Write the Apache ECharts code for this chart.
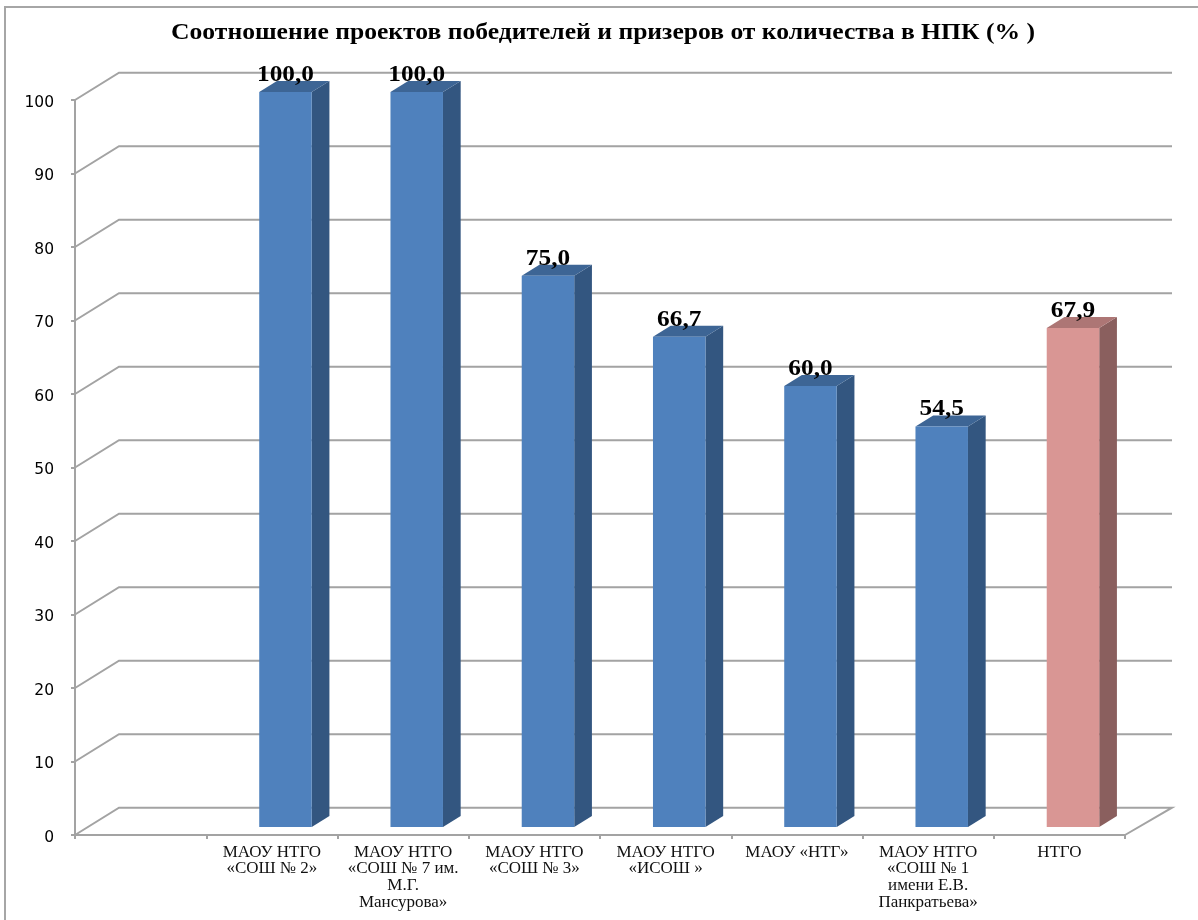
<!DOCTYPE html>
<html><head><meta charset="utf-8">
<style>html,body{margin:0;padding:0;background:#fff}#c{width:1198px;height:920px}</style>
<script src="https://cdn.jsdelivr.net/npm/echarts@6/dist/echarts.min.js"></script>
</head><body><div id="c"></div>
<script>
const titleText = 'Соотношение проектов победителей и призеров от количества в НПК (% )';
const categories = ['', 'МАОУ НТГО\n«СОШ № 2»', 'МАОУ НТГО\n«СОШ № 7 им.\nМ.Г.\nМансурова»', 'МАОУ НТГО\n«СОШ № 3»', 'МАОУ НТГО\n«ИСОШ »', 'МАОУ «НТГ»', 'МАОУ НТГО\n«СОШ № 1\nимени Е.В.\nПанкратьева»', 'НТГО'];
const values = [null, 100.0, 100.0, 75.0, 66.7, 60.0, 54.5, 67.9];
const valueLabels = ['', '100,0', '100,0', '75,0', '66,7', '60,0', '54,5', '67,9'];
const gridTicks = [0, 10, 20, 30, 40, 50, 60, 70, 80, 90, 100];
const highlighted = 'НТГО';

const wallDx = 44, wallDy = 27.3, wallRight = 47;
const barDx = 13.6, barDy = 8, sideDx = 17.7, sideDy = 11;
const lineColor = '#a3a3a3';
const blue = {front:'#4F81BD', side:'#335680', top:'#3D6595'};
const red = {front:'#D99694', side:'#8A5F5E', top:'#AD7675'};

const chart = echarts.init(document.getElementById('c'));
chart.setOption({
  animation:false,
  backgroundColor:'#fff',
  graphic:[
    {type:'rect',shape:{x:5,y:7,width:1300,height:1000},style:{fill:'none',stroke:'#a6a6a6',lineWidth:2},z:-10},
    {type:'text',x:603,y:33.5,scaleX:1.113,style:{x:0,y:0,text:titleText,align:'center',verticalAlign:'middle',
      font:'bold 23px "Liberation Serif"',fill:'#000'}}
  ],
  grid:{left:75,right:73,top:100,bottom:85},
  xAxis:{type:'category',data:categories,boundaryGap:true,
    axisLine:{lineStyle:{color:lineColor,width:2}},
    axisTick:{show:true,length:4,alignWithLabel:false,lineStyle:{color:lineColor,width:2}},
    axisLabel:{interval:0,margin:9,fontFamily:'Liberation Serif',fontSize:17,lineHeight:16.6,color:'#111',align:'center'},
    splitLine:{show:false}},
  yAxis:{type:'value',min:0,max:100,interval:10,
    axisLine:{show:true,lineStyle:{color:lineColor,width:2}},
    axisTick:{show:true,length:4,lineStyle:{color:lineColor,width:2}},
    axisLabel:{margin:21,fontFamily:'DejaVu Sans',fontSize:15.5,color:'#000',verticalAlign:'top',lineHeight:5},
    splitLine:{show:false}},
  series:[
    {type:'custom',name:'walls',coordinateSystem:'cartesian2d',silent:true,z:1,
     data:gridTicks.map(t=>[0,t]),
     renderItem:(params,api)=>{
       const y=api.coord([0,api.value(1)])[1];
       const cs=params.coordSys;
       const x0=cs.x, x1=cs.x+cs.width;
       const pts=[[x0,y],[x0+wallDx,y-wallDy],[x1+wallRight,y-wallDy]];
       if(api.value(1)===0) pts.push([x1,y]);
       return {type:'polyline',shape:{points:pts},style:{fill:'none',stroke:lineColor,lineWidth:2}};
     }},
    {type:'custom',name:'bars',coordinateSystem:'cartesian2d',silent:true,z:3,
     data:values.map((v,i)=>[i,v]),
     renderItem:(params,api)=>{
       const idx=api.value(0), v=api.value(1);
       if(v==null||isNaN(v)) return null;
       const c=api.coord([idx,v]), base=api.coord([idx,0]);
       const w=api.size([1,0])[0]*0.4;
       const l=c[0]+barDx-w/2, r=l+w, t=c[1]-barDy, b=base[1]-barDy;
       const col=categories[idx]===highlighted?red:blue;
       return {type:'group',children:[
         {type:'polygon',shape:{points:[[r,t],[r+sideDx,t-sideDy],[r+sideDx,b-sideDy],[r,b]]},style:{fill:col.side}},
         {type:'polygon',shape:{points:[[l,t],[l+sideDx,t-sideDy],[r+sideDx,t-sideDy],[r,t]]},style:{fill:col.top}},
         {type:'rect',shape:{x:l,y:t,width:w,height:b-t},style:{fill:col.front}},
         {type:'text',x:(l+r)/2,y:t-5.5,scaleX:1.1,style:{x:0,y:0,text:valueLabels[idx],align:'center',verticalAlign:'bottom',
           font:'bold 23px "Liberation Serif"',fill:'#000'}}
       ]};
     }}
  ]
});
</script></body></html>
